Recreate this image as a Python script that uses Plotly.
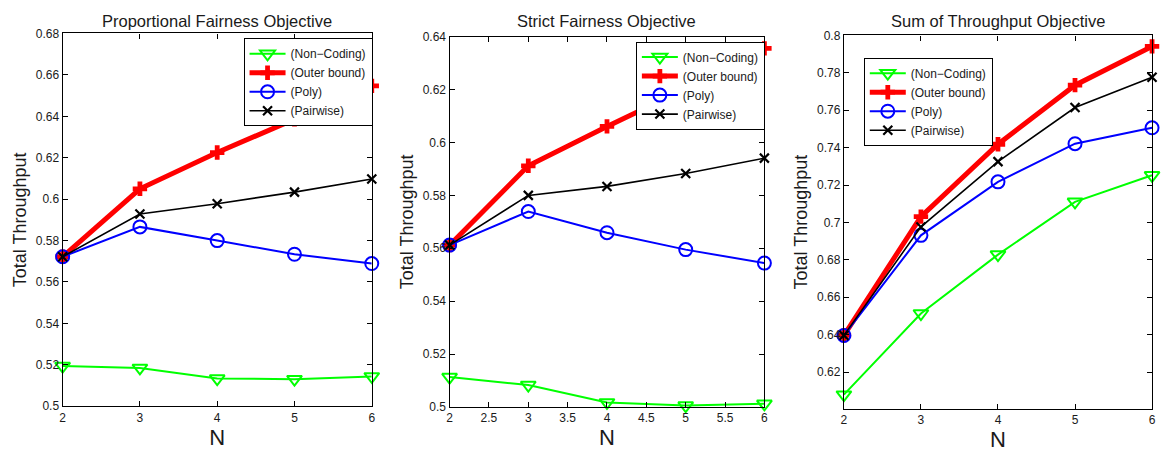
import plotly.graph_objects as go

# Number of nodes
N = [2, 3, 4, 5, 6]

# Proportional fairness objective
pf_noncoding = [0.5194, 0.5185, 0.5134, 0.5131, 0.5144]
pf_outer = [0.5722, 0.6050, 0.6225, 0.6385, 0.6547]
pf_poly = [0.5722, 0.5866, 0.5800, 0.5734, 0.5689]
pf_pairwise = [0.5722, 0.5928, 0.5978, 0.6034, 0.6097]

# Strict fairness objective
sf_noncoding = [0.5113, 0.5083, 0.5017, 0.5005, 0.5012]
sf_outer = [0.5612, 0.5912, 0.6061, 0.6203, 0.6356]
sf_poly = [0.5612, 0.5739, 0.5659, 0.5595, 0.5544]
sf_pairwise = [0.5612, 0.5800, 0.5834, 0.5883, 0.5941]

# Sum of throughput objective
st_noncoding = [0.6079, 0.6513, 0.6828, 0.7110, 0.7252]
st_outer = [0.6396, 0.7031, 0.7418, 0.7734, 0.7941]
st_poly = [0.6396, 0.6931, 0.7217, 0.7421, 0.7506]
st_pairwise = [0.6396, 0.6976, 0.7325, 0.7614, 0.7776]

series_names = ["(Non\u2212Coding)", "(Outer bound)", "(Poly)", "(Pairwise)"]
titles = ["Proportional Fairness Objective", "Strict Fairness Objective",
          "Sum of Throughput Objective"]

pf_yticks = [0.5, 0.52, 0.54, 0.56, 0.58, 0.6, 0.62, 0.64, 0.66, 0.68]
sf_yticks = [0.5, 0.52, 0.54, 0.56, 0.58, 0.6, 0.62, 0.64]
st_yticks = [0.62, 0.64, 0.66, 0.68, 0.7, 0.72, 0.74, 0.76, 0.78, 0.8]
pf_xticks = [2, 3, 4, 5, 6]
sf_xticks = [2, 2.5, 3, 3.5, 4, 4.5, 5, 5.5, 6]
st_xticks = [2, 3, 4, 5, 6]

W, H = 1164, 453
FONT = "Liberation Sans, Arial, Helvetica, sans-serif"
TXT = "#1a1a1a"

styles = [
    dict(line=dict(color="#00ff00", width=2),
         marker=dict(symbol="triangle-down-open", size=13, color="#00ff00",
                     line=dict(width=2, color="#00ff00"))),
    dict(line=dict(color="#ff0000", width=5),
         marker=dict(symbol="cross", size=12, color="#ff0000",
                     line=dict(width=0))),
    dict(line=dict(color="#0000ff", width=2),
         marker=dict(symbol="circle-open", size=13, color="#0000ff",
                     line=dict(width=2, color="#0000ff"))),
    dict(line=dict(color="#000000", width=1.6),
         marker=dict(symbol="x-thin-open", size=9, color="#000000",
                     line=dict(width=2.2, color="#000000"))),
]

panels = [
    dict(data=[pf_noncoding, pf_outer, pf_poly, pf_pairwise],
         xdom=(60, 371), ydom=(27.3, 412), yrange=(0.5, 0.68),
         yticks=pf_yticks, xticks=pf_xticks, legend=(242, 32.3)),
    dict(data=[sf_noncoding, sf_outer, sf_poly, sf_pairwise],
         xdom=(449.3, 766), ydom=(30.7, 412.7), yrange=(0.5, 0.64),
         yticks=sf_yticks, xticks=sf_xticks, legend=(636.7, 35.7)),
    dict(data=[st_noncoding, st_outer, st_poly, st_pairwise],
         xdom=(846, 1156), ydom=(29.3, 414.7), yrange=(0.6003, 0.8),
         yticks=st_yticks, xticks=st_xticks, legend=(866, 52.3)),
]


def fmt(v):
    return ("%.2f" % v).rstrip("0").rstrip(".")


fig = go.Figure()
layout = dict(
    width=W, height=H, margin=dict(l=0, r=0, t=0, b=0),
    paper_bgcolor="white", plot_bgcolor="white",
    font=dict(family=FONT, color=TXT),
    annotations=[],
)

for i, p in enumerate(panels):
    k = "" if i == 0 else str(i + 1)
    leg = "legend" + k
    for j, (name, vals) in enumerate(zip(series_names, p["data"])):
        fig.add_trace(go.Scatter(
            x=N, y=vals, name=name, mode="lines+markers",
            xaxis="x" + k, yaxis="y" + k, legend=leg,
            cliponaxis=False, **styles[j]))

    x0, x1 = p["xdom"]
    y0, y1 = p["ydom"]
    axis_common = dict(
        showline=True, linecolor="black", linewidth=1.3, mirror="ticks",
        ticks="inside", ticklen=5, tickwidth=1, tickcolor="black",
        showgrid=False, zeroline=False,
        tickfont=dict(size=12, family=FONT, color=TXT),
    )
    layout["xaxis" + k] = dict(
        domain=[x0 / W, x1 / W], range=[2, 6], anchor="y" + k,
        tickvals=p["xticks"], ticktext=[fmt(v) for v in p["xticks"]],
        title=dict(text="N", font=dict(size=22, family=FONT, color=TXT),
                   standoff=0),
        **axis_common)
    layout["yaxis" + k] = dict(
        domain=[1 - y1 / H, 1 - y0 / H], range=list(p["yrange"]), anchor="x" + k,
        tickvals=p["yticks"], ticktext=[fmt(v) for v in p["yticks"]],
        title=dict(text="Total Throughput",
                   font=dict(size=18, family=FONT, color=TXT), standoff=4),
        **axis_common)
    lx, ly = p["legend"]
    layout[leg] = dict(
        x=lx / W, y=1 - ly / H, xanchor="left", yanchor="top",
        bgcolor="white", bordercolor="black", borderwidth=1,
        font=dict(size=12, family=FONT, color=TXT),
        itemwidth=36, tracegroupgap=0,
    )
    layout["annotations"].append(dict(
        text=titles[i], x=(x0 + x1) / 2 / W, y=1 - 14 / H, xref="paper",
        yref="paper", showarrow=False, xanchor="center", yanchor="middle",
        font=dict(size=16.5, family=FONT, color=TXT)))

fig.update_layout(**layout)
fig.write_html("out.html")
